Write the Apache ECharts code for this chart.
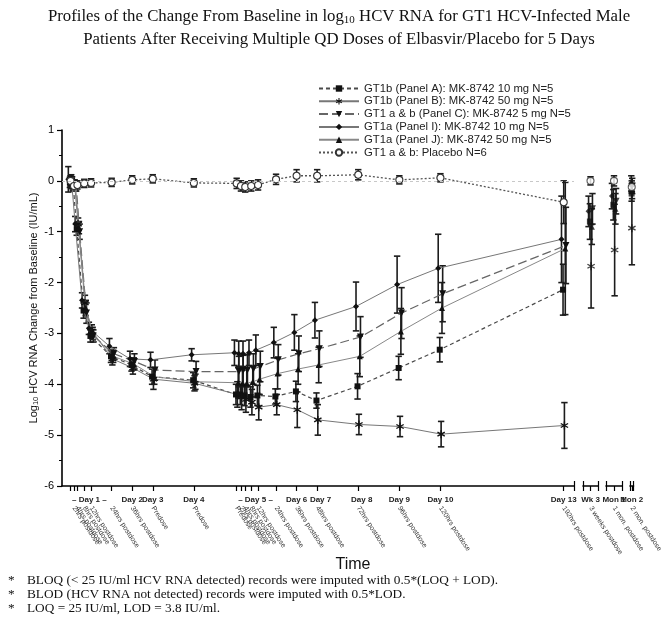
<!DOCTYPE html>
<html><head><meta charset="utf-8">
<script src="https://cdn.jsdelivr.net/npm/echarts@6/dist/echarts.min.js"></script>
<style>html,body{margin:0;padding:0;background:#fff}#chart{width:664px;height:623px}</style>
</head><body><div id="chart"></div>
<script>
// ---------------- DATA ----------------
const timeHours = [0, 2, 4, 8, 12, 24, 36, 48, 72, 97, 99.5, 102, 105.5, 109.5, 120, 132, 144, 168, 192, 216, 288];
const tickLabels = ['Predose','2hrs postdose','4hrs postdose','8hrs postdose','12hrs postdose','24hrs postdose','36hrs postdose','Predose','Predose',
  'Predose','2hrs postdose','4hrs postdose','8hrs postdose','12hrs postdose','24hrs postdose','36hrs postdose','48hrs postdose','72hrs postdose','96hrs postdose','120hrs postdose','192hrs postdose'];
const dayLabelHours = [11, 36, 48, 72, 108, 132, 146, 170, 192, 216, 288];
const dayLabelText = ['– Day 1 –','Day 2','Day 3','Day 4','– Day 5 –','Day 6','Day 7','Day 8','Day 9','Day 10','Day 13'];
const lateNames = ['Wk 3','Mon 1','Mon 2'];
const lateTickLabels = ['3 weeks postdose','1 mon. postdose','2 mon. postdose'];
const yTickMin = -6, yTickMax = 1;

const seriesNames = [
  'GT1b (Panel A): MK-8742 10 mg N=5',
  'GT1b (Panel B): MK-8742 50 mg N=5',
  'GT1 a & b (Panel C): MK-8742 5 mg N=5',
  'GT1a (Panel I): MK-8742 10 mg N=5',
  'GT1a (Panel J): MK-8742 50 mg N=5',
  'GT1 a & b: Placebo N=6'
];

const meanA = [-0.03,-0.1,-0.95,-2.55,-3.05,-3.45,-3.62,-3.85,-3.92,-4.2,-4.2,-4.22,-4.25,-4.22,-4.24,-4.14,-4.32,-4.04,-3.68,-3.32,-2.14];
const sdA   = [0.1,0.1,0.12,0.15,0.12,0.12,0.12,0.15,0.15,0.2,0.2,0.2,0.2,0.2,0.15,0.2,0.15,0.25,0.23,0.24,0.5];
const lateMeanA = [-0.8,-0.47,-0.25];
const lateSdA   = [0.35,0.3,0.15];

const meanB = [0.02,-0.08,-0.85,-2.4,-2.95,-3.5,-3.68,-3.9,-3.98,-4.2,-4.25,-4.3,-4.35,-4.45,-4.4,-4.5,-4.7,-4.79,-4.83,-4.98,-4.81];
const sdB   = [0.1,0.1,0.12,0.15,0.12,0.12,0.12,0.2,0.15,0.25,0.25,0.25,0.25,0.25,0.2,0.35,0.3,0.2,0.2,0.25,0.45];
const lateMeanB = [-1.68,-1.36,-0.93];
const lateSdB   = [0.82,0.9,0.72];

const meanC = [-0.08,-0.1,-1.0,-2.6,-3.05,-3.4,-3.55,-3.72,-3.75,-3.75,-3.73,-3.72,-3.7,-3.65,-3.52,-3.4,-3.3,-3.07,-2.6,-2.22,-1.27];
const sdC   = [0.1,0.1,0.15,0.2,0.12,0.12,0.15,0.2,0.2,0.3,0.3,0.3,0.3,0.3,0.3,0.35,0.35,0.4,0.5,0.55,0.75];
const lateMeanC = [-0.55,-0.4,-0.1];
const lateSdC   = [0.3,0.25,0.15];

const meanI = [0.03,-0.05,-0.85,-2.35,-2.9,-3.25,-3.5,-3.52,-3.42,-3.38,-3.4,-3.4,-3.38,-3.33,-3.18,-2.98,-2.74,-2.47,-2.04,-1.72,-1.15];
const sdI   = [0.25,0.1,0.15,0.15,0.12,0.15,0.15,0.15,0.12,0.25,0.25,0.25,0.25,0.3,0.3,0.35,0.35,0.48,0.56,0.67,0.85];
const lateMeanI = [-0.6,-0.3,-0.05];
const lateSdI   = [0.3,0.25,0.15];

const meanJ = [-0.02,-0.1,-0.92,-2.5,-3.0,-3.45,-3.6,-3.85,-3.95,-3.97,-3.98,-3.98,-3.95,-3.9,-3.79,-3.7,-3.62,-3.45,-2.96,-2.5,-1.33];
const sdJ   = [0.1,0.1,0.12,0.15,0.12,0.12,0.12,0.15,0.15,0.3,0.3,0.3,0.3,0.3,0.3,0.3,0.35,0.4,0.45,0.5,1.3];
const lateMeanJ = [-0.9,-0.55,-0.2];
const lateSdJ   = [0.35,0.3,0.15];

const meanP = [0,-0.1,-0.08,-0.05,-0.04,-0.03,0.02,0.04,-0.04,-0.05,-0.1,-0.12,-0.1,-0.08,0.03,0.1,0.1,0.12,0.02,0.06,-0.42];
const sdP   = [0.1,0.08,0.08,0.08,0.08,0.08,0.08,0.08,0.08,0.1,0.1,0.1,0.1,0.1,0.1,0.12,0.12,0.1,0.08,0.08,0.42];
const lateMeanP = [0.0,0.0,-0.12];
const lateSdP   = [0.08,0.1,0.12];

// small horizontal jitter (in axis units) used to separate the groups
const groupJitter = [-0.4, 0.4, 1.3, -1.3, 0.9, 0];

// ---------------- BUILD ----------------
const SANS = '"Liberation Sans", Arial, Helvetica, sans-serif';
const SERIF = '"Liberation Serif", "Times New Roman", serif';

function asteriskPath() {
  const c = 5, L = 5, w = 0.8, parts = [];
  [90, 30, -30].forEach(function (deg) {
    const a = deg * Math.PI / 180, dx = Math.cos(a), dy = Math.sin(a), nx = -dy, ny = dx;
    const p = [
      [c + dx * L + nx * w, c + dy * L + ny * w],
      [c + dx * L - nx * w, c + dy * L - ny * w],
      [c - dx * L - nx * w, c - dy * L - ny * w],
      [c - dx * L + nx * w, c - dy * L + ny * w]
    ];
    parts.push('M' + p.map(q => q[0].toFixed(2) + ',' + q[1].toFixed(2)).join(' L') + ' Z');
  });
  return 'path://' + parts.join(' ');
}

const groups = [
  {mean: meanA, sd: sdA, lm: lateMeanA, ls: lateSdA, symbol: 'rect', size: 6, line: {color: '#4a4a4a', width: 1.2, type: [4, 3]}},
  {mean: meanB, sd: sdB, lm: lateMeanB, ls: lateSdB, symbol: asteriskPath(), size: 8, line: {color: '#777', width: 1, type: 'solid'}},
  {mean: meanC, sd: sdC, lm: lateMeanC, ls: lateSdC, symbol: 'path://M0,0 L10,0 L5,8.5 Z', size: 7, line: {color: '#666', width: 1.2, type: [9, 4]}},
  {mean: meanI, sd: sdI, lm: lateMeanI, ls: lateSdI, symbol: 'diamond', size: 6, line: {color: '#777', width: 1, type: 'solid'}},
  {mean: meanJ, sd: sdJ, lm: lateMeanJ, ls: lateSdJ, symbol: 'triangle', size: 6, line: {color: '#888', width: 1, type: 'solid'}},
  {mean: meanP, sd: sdP, lm: lateMeanP, ls: lateSdP, symbol: 'circle', size: 7, hollow: true, line: {color: '#555', width: 1.3, type: [2, 2]}}
];

function errRender(params, api) {
  const x = api.value(0), lo = api.value(1), hi = api.value(2);
  const a = api.coord([x, hi]), b = api.coord([x, lo]);
  const cw = 3.2;
  const st = {stroke: '#1c1c1c', lineWidth: 1.6};
  return {type: 'group', children: [
    {type: 'line', shape: {x1: a[0], y1: a[1], x2: b[0], y2: b[1]}, style: st},
    {type: 'line', shape: {x1: a[0] - cw, y1: a[1], x2: a[0] + cw, y2: a[1]}, style: st},
    {type: 'line', shape: {x1: b[0] - cw, y1: b[1], x2: b[0] + cw, y2: b[1]}, style: st}
  ]};
}

const MAIN_MIN = -5, MAIN_MAX = 294;
const SMALL_MIN = 0, SMALL_MAX = 10, SMALL_MID = 5;

const dayMap = new Map(dayLabelHours.map((h, i) => [h, dayLabelText[i]]));
const tickMap = new Map(timeHours.map((h, i) => [h, tickLabels[i]]));

const grids = [
  {left: 62, top: 130, width: 512, height: 356},
  {left: 583, top: 130, width: 15, height: 356},
  {left: 606, top: 130, width: 16, height: 356},
  {left: 630, top: 130, width: 14, height: 356}
];

const xAxes = [];
const noLine = {show: false, onZero: false};
xAxes.push({gridIndex: 0, type: 'value', min: MAIN_MIN, max: MAIN_MAX, position: 'bottom',
  axisLine: {show: true, onZero: false, lineStyle: {color: '#000', width: 1.6}},
  axisTick: {show: true, customValues: timeHours.concat([MAIN_MAX]), length: 5, lineStyle: {color: '#000', width: 1.2}},
  axisLabel: {show: true, customValues: dayLabelHours, formatter: v => dayMap.get(v) || '', fontSize: 8, fontWeight: 'bold', color: '#222', fontFamily: SANS, margin: 10},
  splitLine: {show: false}});
xAxes.push({gridIndex: 0, type: 'value', min: MAIN_MIN, max: MAIN_MAX, position: 'bottom',
  axisLine: noLine, axisTick: {show: false}, splitLine: {show: false},
  axisLabel: {show: true, customValues: timeHours, formatter: v => tickMap.get(v) || '', rotate: -57, fontSize: 7, color: '#333', fontFamily: SANS, margin: 21}});
xAxes.push({gridIndex: 0, type: 'value', min: MAIN_MIN, max: MAIN_MAX, position: 'bottom',
  axisLine: noLine, splitLine: {show: false}, axisLabel: {show: false},
  axisTick: {show: true, inside: true, customValues: [MAIN_MAX], length: 5, lineStyle: {color: '#000', width: 1.2}}});
for (let g = 1; g <= 3; g++) {
  xAxes.push({gridIndex: g, type: 'value', min: SMALL_MIN, max: SMALL_MAX, position: 'bottom',
    axisLine: {show: true, onZero: false, lineStyle: {color: '#000', width: 1.6}},
    axisTick: {show: true, customValues: [SMALL_MIN, SMALL_MID, SMALL_MAX], length: 5, lineStyle: {color: '#000', width: 1.2}},
    axisLabel: {show: true, customValues: [SMALL_MID], formatter: () => lateNames[g - 1], fontSize: 8, fontWeight: 'bold', color: '#222', fontFamily: SANS, margin: 10},
    splitLine: {show: false}});
  xAxes.push({gridIndex: g, type: 'value', min: SMALL_MIN, max: SMALL_MAX, position: 'bottom',
    axisLine: noLine, splitLine: {show: false}, axisLabel: {show: false},
    axisTick: {show: true, inside: true, customValues: [SMALL_MIN, SMALL_MAX], length: 5, lineStyle: {color: '#000', width: 1.2}}});
  xAxes.push({gridIndex: g, type: 'value', min: SMALL_MIN, max: SMALL_MAX, position: 'bottom',
    axisLine: noLine, axisTick: {show: false}, splitLine: {show: false},
    axisLabel: {show: true, customValues: [SMALL_MID], formatter: () => lateTickLabels[g - 1], rotate: -57, fontSize: 7, color: '#333', fontFamily: SANS, margin: 21}});
}

const yAxes = [{
  gridIndex: 0, type: 'value', min: yTickMin, max: yTickMax, interval: 1,
  axisLine: {show: true, onZero: false, lineStyle: {color: '#000', width: 1.6}},
  axisTick: {show: true, length: 5, lineStyle: {color: '#000', width: 1.2}},
  minorTick: {show: true, splitNumber: 2, length: 3, lineStyle: {color: '#000', width: 1}},
  splitLine: {show: false}, minorSplitLine: {show: false},
  axisLabel: {fontSize: 11, color: '#000', fontFamily: SANS, margin: 8},
  name: '{t|Log}{s|10}{t| HCV RNA Change from Baseline (IU/mL)}',
  nameLocation: 'middle', nameGap: 22, nameMoveOverlap: false,
  nameTextStyle: {rich: {
    t: {fontSize: 11, fontFamily: SANS, color: '#111'},
    s: {fontSize: 7.5, fontFamily: SANS, color: '#111', padding: [5, 0, 0, 0]}
  }}
}];
for (let g = 1; g <= 3; g++) {
  yAxes.push({gridIndex: g, type: 'value', min: yTickMin, max: yTickMax, show: false});
}

const series = [];
groups.forEach(function (gr, k) {
  const off = groupJitter[k];
  const itemStyle = gr.hollow ? {color: '#fff', borderColor: '#333', borderWidth: 1.1} : {color: '#111'};
  const lineSeries = {
    name: seriesNames[k], type: 'line', xAxisIndex: 0, yAxisIndex: 0,
    data: timeHours.map((t, i) => [t + off, gr.mean[i]]),
    symbol: gr.symbol, symbolSize: gr.size, showAllSymbol: true,
    lineStyle: gr.line, itemStyle: itemStyle, z: 4, animation: false
  };
  if (gr.hollow) {
    lineSeries.markLine = {silent: true, symbol: 'none', label: {show: false},
      lineStyle: {color: '#c8c8c8', type: [3, 3], width: 1}, data: [{yAxis: 0}]};
  }
  series.push(lineSeries);
  series.push({
    name: seriesNames[k] + ' SD', type: 'custom', xAxisIndex: 0, yAxisIndex: 0,
    data: timeHours.map((t, i) => [t + off, gr.mean[i] - gr.sd[i], gr.mean[i] + gr.sd[i]]),
    renderItem: errRender, encode: {x: 0, y: [1, 2]}, z: 3, animation: false, silent: true
  });
  for (let g = 1; g <= 3; g++) {
    const xi = 3 + (g - 1) * 3;
    const m = gr.lm[g - 1], s = gr.ls[g - 1];
    series.push({
      name: seriesNames[k], type: 'scatter', xAxisIndex: xi, yAxisIndex: g,
      data: [[SMALL_MID + off, m]], symbol: gr.symbol, symbolSize: gr.size,
      itemStyle: itemStyle, z: 4, animation: false
    });
    series.push({
      name: seriesNames[k] + ' SD', type: 'custom', xAxisIndex: xi, yAxisIndex: g,
      data: [[SMALL_MID + off, m - s, m + s]],
      renderItem: errRender, encode: {x: 0, y: [1, 2]}, z: 3, animation: false, silent: true
    });
  }
});

const footnotes = [
  'BLOQ (< 25 IU/ml HCV RNA detected) records were imputed with 0.5*(LOQ + LOD).',
  'BLOD (HCV RNA not detected) records were imputed with 0.5*LOD.',
  'LOQ = 25 IU/ml, LOD = 3.8 IU/ml.'
];

const chart = echarts.init(document.getElementById('chart'), null, {renderer: 'canvas'});
chart.setOption({
  backgroundColor: '#fff',
  animation: false,
  grid: grids,
  xAxis: xAxes,
  yAxis: yAxes,
  legend: {
    data: seriesNames, orient: 'vertical', left: 318, top: 83, padding: 0,
    itemWidth: 40, itemHeight: 8, itemGap: 1.8, selectedMode: false,
    textStyle: {fontSize: 11.3, color: '#222', fontFamily: SANS}
  },
  graphic: [
    {type: 'text', x: 339, y: 5, silent: true, style: {
      text: '{t|Profiles of the Change From Baseline in log}{s|10}{t| HCV RNA for GT1 HCV-Infected Male}\n{t|Patients After Receiving Multiple QD Doses of Elbasvir/Placebo for 5 Days}',
      textAlign: 'center', textVerticalAlign: 'top',
      rich: {
        t: {fontSize: 16.8, fontFamily: SERIF, fill: '#111', lineHeight: 23},
        s: {fontSize: 11, fontFamily: SERIF, fill: '#111', lineHeight: 23, padding: [8, 0, 0, 0]}
      }
    }},
    {type: 'text', x: 353, y: 557, silent: true, style: {text: 'Time', textAlign: 'center', fontSize: 16, fontFamily: SANS, fill: '#111'}},
    {type: 'text', x: 8, y: 574, silent: true, style: {
      text: footnotes.map(f => '{a|*}{b|' + f + '}').join('\n'),
      rich: {
        a: {width: 19, fontSize: 13.3, fontFamily: SERIF, fill: '#111', lineHeight: 14},
        b: {fontSize: 13.3, fontFamily: SERIF, fill: '#111', lineHeight: 14}
      }
    }}
  ],
  series: series
});
</script></body></html>
